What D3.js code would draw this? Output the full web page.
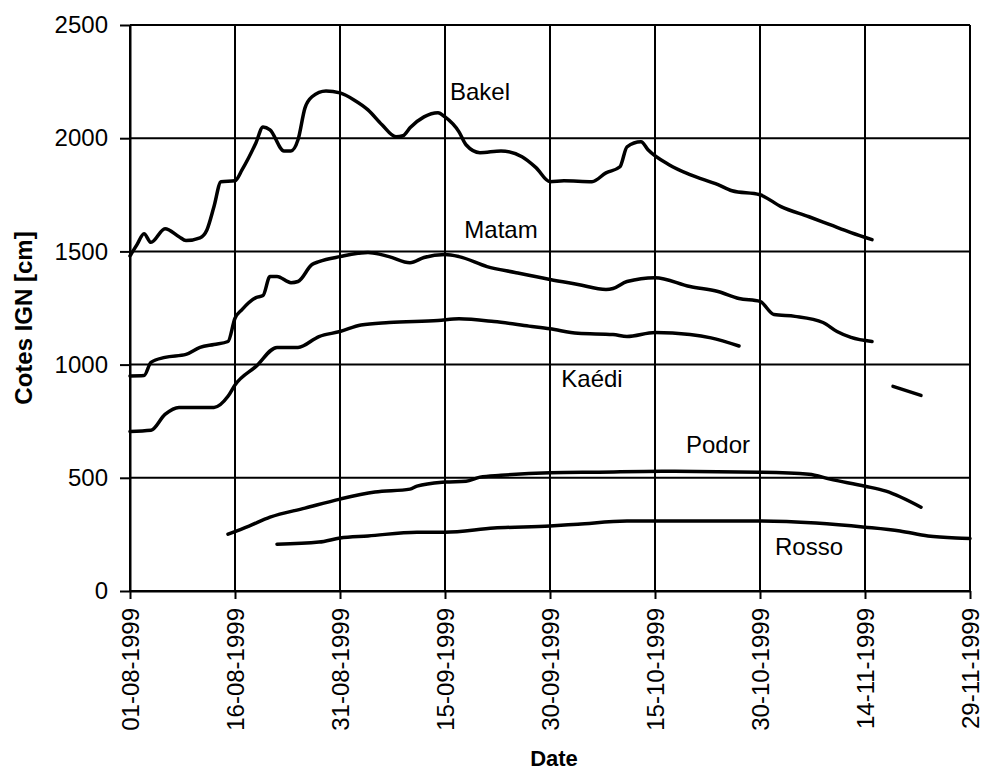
<!DOCTYPE html>
<meta charset="utf-8">
<script src="https://d3js.org/d3.v7.min.js"></script>
<style>
body { margin: 0; background: #fff; }
text { font-family: "Liberation Sans", Arial, sans-serif; fill: #000; }
</style>
<div id="chart"></div>
<script>
// water levels (cm IGN), dates dd-mm of 1999
const bakel = [
  ["01-08",1480],["02-08",1530],["03-08",1578],["04-08",1540],["06-08",1600],["08-08",1565],
  ["09-08",1548],["11-08",1560],["12-08",1596],["13-08",1698],["14-08",1808],["16-08",1812],
  ["17-08",1860],["19-08",1980],["20-08",2050],["21-08",2037],["23-08",1944],["24-08",1944],
  ["25-08",1993],["26-08",2134],["27-08",2183],["29-08",2209],["31-08",2200],["02-09",2169],
  ["04-09",2125],["06-09",2059],["08-09",2006],["09-09",2011],["10-09",2046],["12-09",2094],
  ["14-09",2112],["15-09",2094],["17-09",2028],["18-09",1971],["20-09",1936],["23-09",1944],
  ["26-09",1918],["28-09",1870],["30-09",1808],["02-10",1812],["06-10",1808],["08-10",1847],
  ["10-10",1874],["11-10",1962],["13-10",1984],["14-10",1949],["17-10",1883],["20-10",1839],
  ["24-10",1795],["26-10",1768],["30-10",1750],["02-11",1698],["06-11",1653],["09-11",1618],
  ["12-11",1583],["15-11",1552]
];
const matam = [
  ["01-08",950],["03-08",952],["04-08",1010],["06-08",1032],["09-08",1045],["11-08",1076],
  ["13-08",1089],["15-08",1102],["16-08",1205],["17-08",1243],["19-08",1296],["20-08",1305],
  ["21-08",1389],["22-08",1389],["24-08",1362],["25-08",1367],["27-08",1442],["28-08",1455],
  ["31-08",1477],["04-09",1495],["07-09",1477],["10-09",1450],["12-09",1473],["15-09",1486],
  ["17-09",1477],["21-09",1433],["25-09",1407],["30-09",1376],["04-10",1354],["08-10",1332],
  ["09-10",1336],["11-10",1367],["15-10",1384],["20-10",1345],["24-10",1323],["27-10",1292],
  ["30-10",1279],["01-11",1221],["04-11",1213],["08-11",1186],["10-11",1146],["12-11",1120],
  ["15-11",1102]
];
const kaedi = [
  ["01-08",705],["04-08",710],["06-08",780],["08-08",811],["13-08",811],["15-08",860],
  ["16-08",910],["19-08",992],["22-08",1076],["25-08",1076],["28-08",1124],["31-08",1146],
  ["03-09",1175],["07-09",1186],["14-09",1195],["17-09",1202],["22-09",1190],["27-09",1170],
  ["30-09",1158],["04-10",1138],["09-10",1133],["11-10",1124],["15-10",1142],["20-10",1133],
  ["23-10",1118],["27-10",1082]
];
const kaediEnd = [["18-11",904],["22-11",864]];
const podor = [
  ["15-08",251],["18-08",287],["21-08",326],["26-08",366],["31-08",406],["05-09",437],
  ["10-09",450],["11-09",463],["15-09",481],["18-09",485],["20-09",503],["23-09",511],
  ["30-09",522],["07-10",525],["16-10",529],["30-10",525],["06-11",516],["09-11",494],
  ["14-11",463],["17-11",441],["22-11",370]
];
const rosso = [
  ["22-08",207],["28-08",216],["31-08",234],["04-09",243],["11-09",260],["15-09",260],
  ["22-09",278],["30-09",287],["04-10",295],["11-10",309],["30-10",309],["07-11",300],
  ["14-11",282],["19-11",265],["23-11",243],["27-11",234],["29-11",232]
];
const seriesLabels = [
  ["Bakel","20-09",2170],["Matam","23-09",1560],["Kaédi","06-10",900],
  ["Podor","24-10",610],["Rosso","06-11",160]
];
const xTickLabels = ["01-08-1999","16-08-1999","31-08-1999","15-09-1999","30-09-1999",
  "15-10-1999","30-10-1999","14-11-1999","29-11-1999"];
const yTicks = [0,500,1000,1500,2000,2500];

const width = 984, height = 774;
const plotLeft = 130, plotRight = 970, plotTop = 25, plotBottom = 591;
const parse = d3.timeParse("%d-%m-%Y");
const day = s => parse(s + "-1999");

const x = d3.scaleTime()
  .domain([parse(xTickLabels[0]), parse(xTickLabels[xTickLabels.length - 1])])
  .range([plotLeft, plotRight]);
const y = d3.scaleLinear().domain([0, 2500]).range([plotBottom, plotTop]);

const svg = d3.select('#chart').append('svg')
  .attr('width', width).attr('height', height);

// grid
svg.append('g').selectAll('line').data(yTicks).join('line')
  .attr('x1', plotLeft).attr('x2', plotRight)
  .attr('y1', d => y(d)).attr('y2', d => y(d))
  .attr('stroke', '#000').attr('stroke-width', 2);
svg.append('g').selectAll('line').data(xTickLabels).join('line')
  .attr('x1', d => x(parse(d))).attr('x2', d => x(parse(d)))
  .attr('y1', plotTop).attr('y2', plotBottom)
  .attr('stroke', '#000').attr('stroke-width', 2);

// axes
const xAxis = svg.append('g')
  .attr('transform', `translate(0,${plotBottom})`)
  .call(d3.axisBottom(x).tickValues(xTickLabels.map(parse))
    .tickFormat(d3.timeFormat("%d-%m-%Y")).tickSize(8).tickSizeOuter(0));
xAxis.selectAll('text')
  .attr('transform', 'rotate(-90)')
  .attr('x', -17).attr('y', 0).attr('dy', '0.35em')
  .style('text-anchor', 'end')
  .attr('font-size', 24);

const yAxis = svg.append('g')
  .attr('transform', `translate(${plotLeft},0)`)
  .call(d3.axisLeft(y).tickValues(yTicks).tickFormat(d3.format('d'))
    .tickSize(10).tickPadding(12).tickSizeOuter(0));
yAxis.selectAll('text').attr('font-size', 24);

svg.selectAll('.domain, .tick line').attr('stroke', '#000').attr('stroke-width', 2);
svg.selectAll('.tick text').attr('font-family', '"Liberation Sans", Arial, sans-serif');

// lines
const line = d3.line()
  .x(d => x(day(d[0])))
  .y(d => y(d[1]))
  .curve(d3.curveMonotoneX);

svg.append('g').selectAll('path')
  .data([bakel, matam, kaedi, kaediEnd, podor, rosso])
  .join('path')
  .attr('d', line)
  .attr('fill', 'none')
  .attr('stroke', '#000')
  .attr('stroke-width', 3.5)
  .attr('stroke-linejoin', 'round')
  .attr('stroke-linecap', 'round');

// series names
svg.append('g').selectAll('text').data(seriesLabels).join('text')
  .attr('x', d => x(day(d[1])))
  .attr('y', d => y(d[2]))
  .attr('text-anchor', 'middle')
  .attr('font-size', 24)
  .text(d => d[0]);

// axis titles
svg.append('text')
  .attr('transform', `translate(32,${(plotTop + plotBottom) / 2 + 10}) rotate(-90)`)
  .attr('text-anchor', 'middle')
  .attr('font-size', 24).attr('font-weight', 'bold')
  .text('Cotes IGN [cm]');
svg.append('text')
  .attr('x', (plotLeft + plotRight) / 2 + 4)
  .attr('y', 766)
  .attr('text-anchor', 'middle')
  .attr('font-size', 22).attr('font-weight', 'bold')
  .text('Date');
</script>
